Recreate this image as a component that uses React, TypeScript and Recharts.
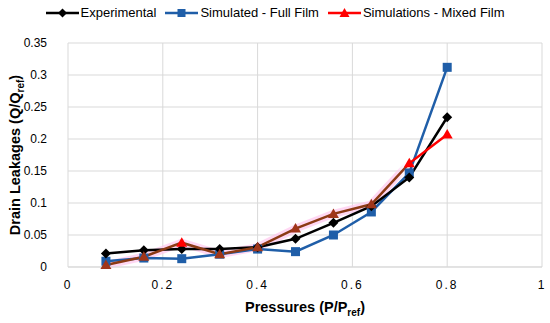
import React from "react";
import { LineChart, Line, XAxis, YAxis, CartesianGrid, Label } from "recharts";

const pressures = [0.08, 0.16, 0.24, 0.32, 0.4, 0.48, 0.56, 0.64, 0.72, 0.8];
const experimental = [0.021, 0.026, 0.028, 0.028, 0.031, 0.044, 0.069, 0.095, 0.14, 0.234];
const fullFilm = [0.009, 0.014, 0.013, 0.02, 0.028, 0.024, 0.05, 0.086, 0.147, 0.312];
const mixedFilm = [0.003, 0.016, 0.038, 0.02, 0.031, 0.06, 0.083, 0.098, 0.162, 0.207];
const xTicks = [0, 0.2, 0.4, 0.6, 0.8, 1];
const yTicks = [0, 0.05, 0.1, 0.15, 0.2, 0.25, 0.3, 0.35];

const BLUE = "#1f5ea8";
const RED = "#ff0000";
const FONT = "'Liberation Sans', Arial, sans-serif";

const data = pressures.map((p, i) => ({
  p,
  exp: experimental[i],
  full: fullFilm[i],
  mixed: mixedFilm[i],
}));

const diamond = (props: any) => {
  const { cx, cy, index } = props;
  return <path key={index} d={`M${cx},${cy - 5}L${cx + 5},${cy}L${cx},${cy + 5}L${cx - 5},${cy}Z`} fill="#000" />;
};
const square = (props: any) => {
  const { cx, cy, index } = props;
  return <rect key={index} x={cx - 4.5} y={cy - 4.5} width={9} height={9} fill={BLUE} />;
};
const triangle = (props: any) => {
  const { cx, cy, index } = props;
  const c = index === 9 || index === 8 || index === 2 ? RED : "#a0361a";
  return <path key={index} d={`M${cx},${cy - 5.5}L${cx + 5.5},${cy + 4}L${cx - 5.5},${cy + 4}Z`} fill={c} />;
};

const legendItems = [
  { name: "Experimental", color: "#000", kind: "d" },
  { name: "Simulated - Full Film", color: BLUE, kind: "s" },
  { name: "Simulations - Mixed Film", color: RED, kind: "t" },
];

function LegendIcon({ color, kind }: { color: string; kind: string }) {
  return (
    <svg width={33} height={12} style={{ marginRight: 2 }}>
      <line x1={0} y1={6} x2={33} y2={6} stroke={color} strokeWidth={2.5} />
      {kind === "d" && <path d="M16.5,1.5L21,6L16.5,10.5L12,6Z" fill={color} />}
      {kind === "s" && <rect x={12.5} y={2} width={8} height={8} fill={color} />}
      {kind === "t" && <path d="M16.5,1L21.5,10L11.5,10Z" fill={color} />}
    </svg>
  );
}

const YTitle = (props: any) => {
  const { viewBox } = props;
  const cy = viewBox.y + viewBox.height / 2;
  return (
    <text x={0} y={0} transform={`translate(20,${cy}) rotate(-90)`} textAnchor="middle" fontFamily={FONT} fontSize={14.5} fontWeight="bold" fill="#000">
      Drain Leakages (Q/Q
      <tspan fontSize={10} dy={4}>ref</tspan>
      <tspan dy={-4}>)</tspan>
    </text>
  );
};

const XTitle = (props: any) => {
  const { viewBox } = props;
  const cx = viewBox.x + viewBox.width / 2;
  return (
    <text x={cx} y={312} textAnchor="middle" fontFamily={FONT} fontSize={14.5} fontWeight="bold" fill="#000">
      Pressures (P/P
      <tspan fontSize={10} dy={4}>ref</tspan>
      <tspan dy={-4}>)</tspan>
    </text>
  );
};

export default function App() {
  return (
    <div style={{ position: "fixed", left: 0, top: 0, width: 550, height: 323, background: "#fff", fontFamily: FONT }}>
      <div style={{ position: "absolute", top: 5, left: 0, width: 550, display: "flex", justifyContent: "center", gap: 9, fontSize: 13, color: "#000" }}>
        {legendItems.map((it) => (
          <div key={it.name} style={{ display: "flex", alignItems: "center" }}>
            <LegendIcon color={it.color} kind={it.kind} />
            <span>{it.name}</span>
          </div>
        ))}
      </div>
      <LineChart width={550} height={323} data={data} margin={{ top: 43, right: 8, bottom: 0, left: 0 }}>
        <defs>
          <linearGradient id="mixGrad" x1="0" y1="0" x2="1" y2="0">
            <stop offset="0" stopColor="#8b3a14" />
            <stop offset="0.87" stopColor="#8b3a14" />
            <stop offset="0.9" stopColor={RED} />
            <stop offset="1" stopColor={RED} />
          </linearGradient>
          <linearGradient id="haloGrad" x1="0" y1="0" x2="1" y2="0">
            <stop offset="0" stopColor="#ffc6ee" stopOpacity={0.7} />
            <stop offset="0.85" stopColor="#ffc6ee" stopOpacity={0.7} />
            <stop offset="0.88" stopColor="#ffc6ee" stopOpacity={0} />
            <stop offset="1" stopColor="#ffc6ee" stopOpacity={0} />
          </linearGradient>
        </defs>
        <CartesianGrid stroke="#d9d9d9" strokeWidth={1} />
        <XAxis
          type="number"
          dataKey="p"
          domain={[0, 1]}
          ticks={xTicks}
          height={56}
          axisLine={{ stroke: "#d9d9d9" }}
          tickLine={false}
          tick={{ fill: "#000", fontSize: 12, fontFamily: FONT, letterSpacing: 2 }}
          tickMargin={7}
        >
          <Label content={XTitle} />
        </XAxis>
        <YAxis
          type="number"
          domain={[0, 0.35]}
          ticks={yTicks}
          width={68}
          axisLine={false}
          tickLine={false}
          tick={{ fill: "#000", fontSize: 12, fontFamily: FONT }}
          tickMargin={15}
        >
          <Label content={YTitle} />
        </YAxis>
        <Line dataKey="mixed" stroke="url(#haloGrad)" strokeWidth={8} dot={false} activeDot={false} isAnimationActive={false} legendType="none" />
        <Line dataKey="full" stroke={BLUE} strokeWidth={2.5} dot={square} isAnimationActive={false} />
        <Line dataKey="exp" stroke="#000" strokeWidth={2.5} dot={diamond} isAnimationActive={false} />
        <Line dataKey="mixed" stroke="url(#mixGrad)" strokeWidth={2.5} dot={triangle} isAnimationActive={false} />
      </LineChart>
    </div>
  );
}
